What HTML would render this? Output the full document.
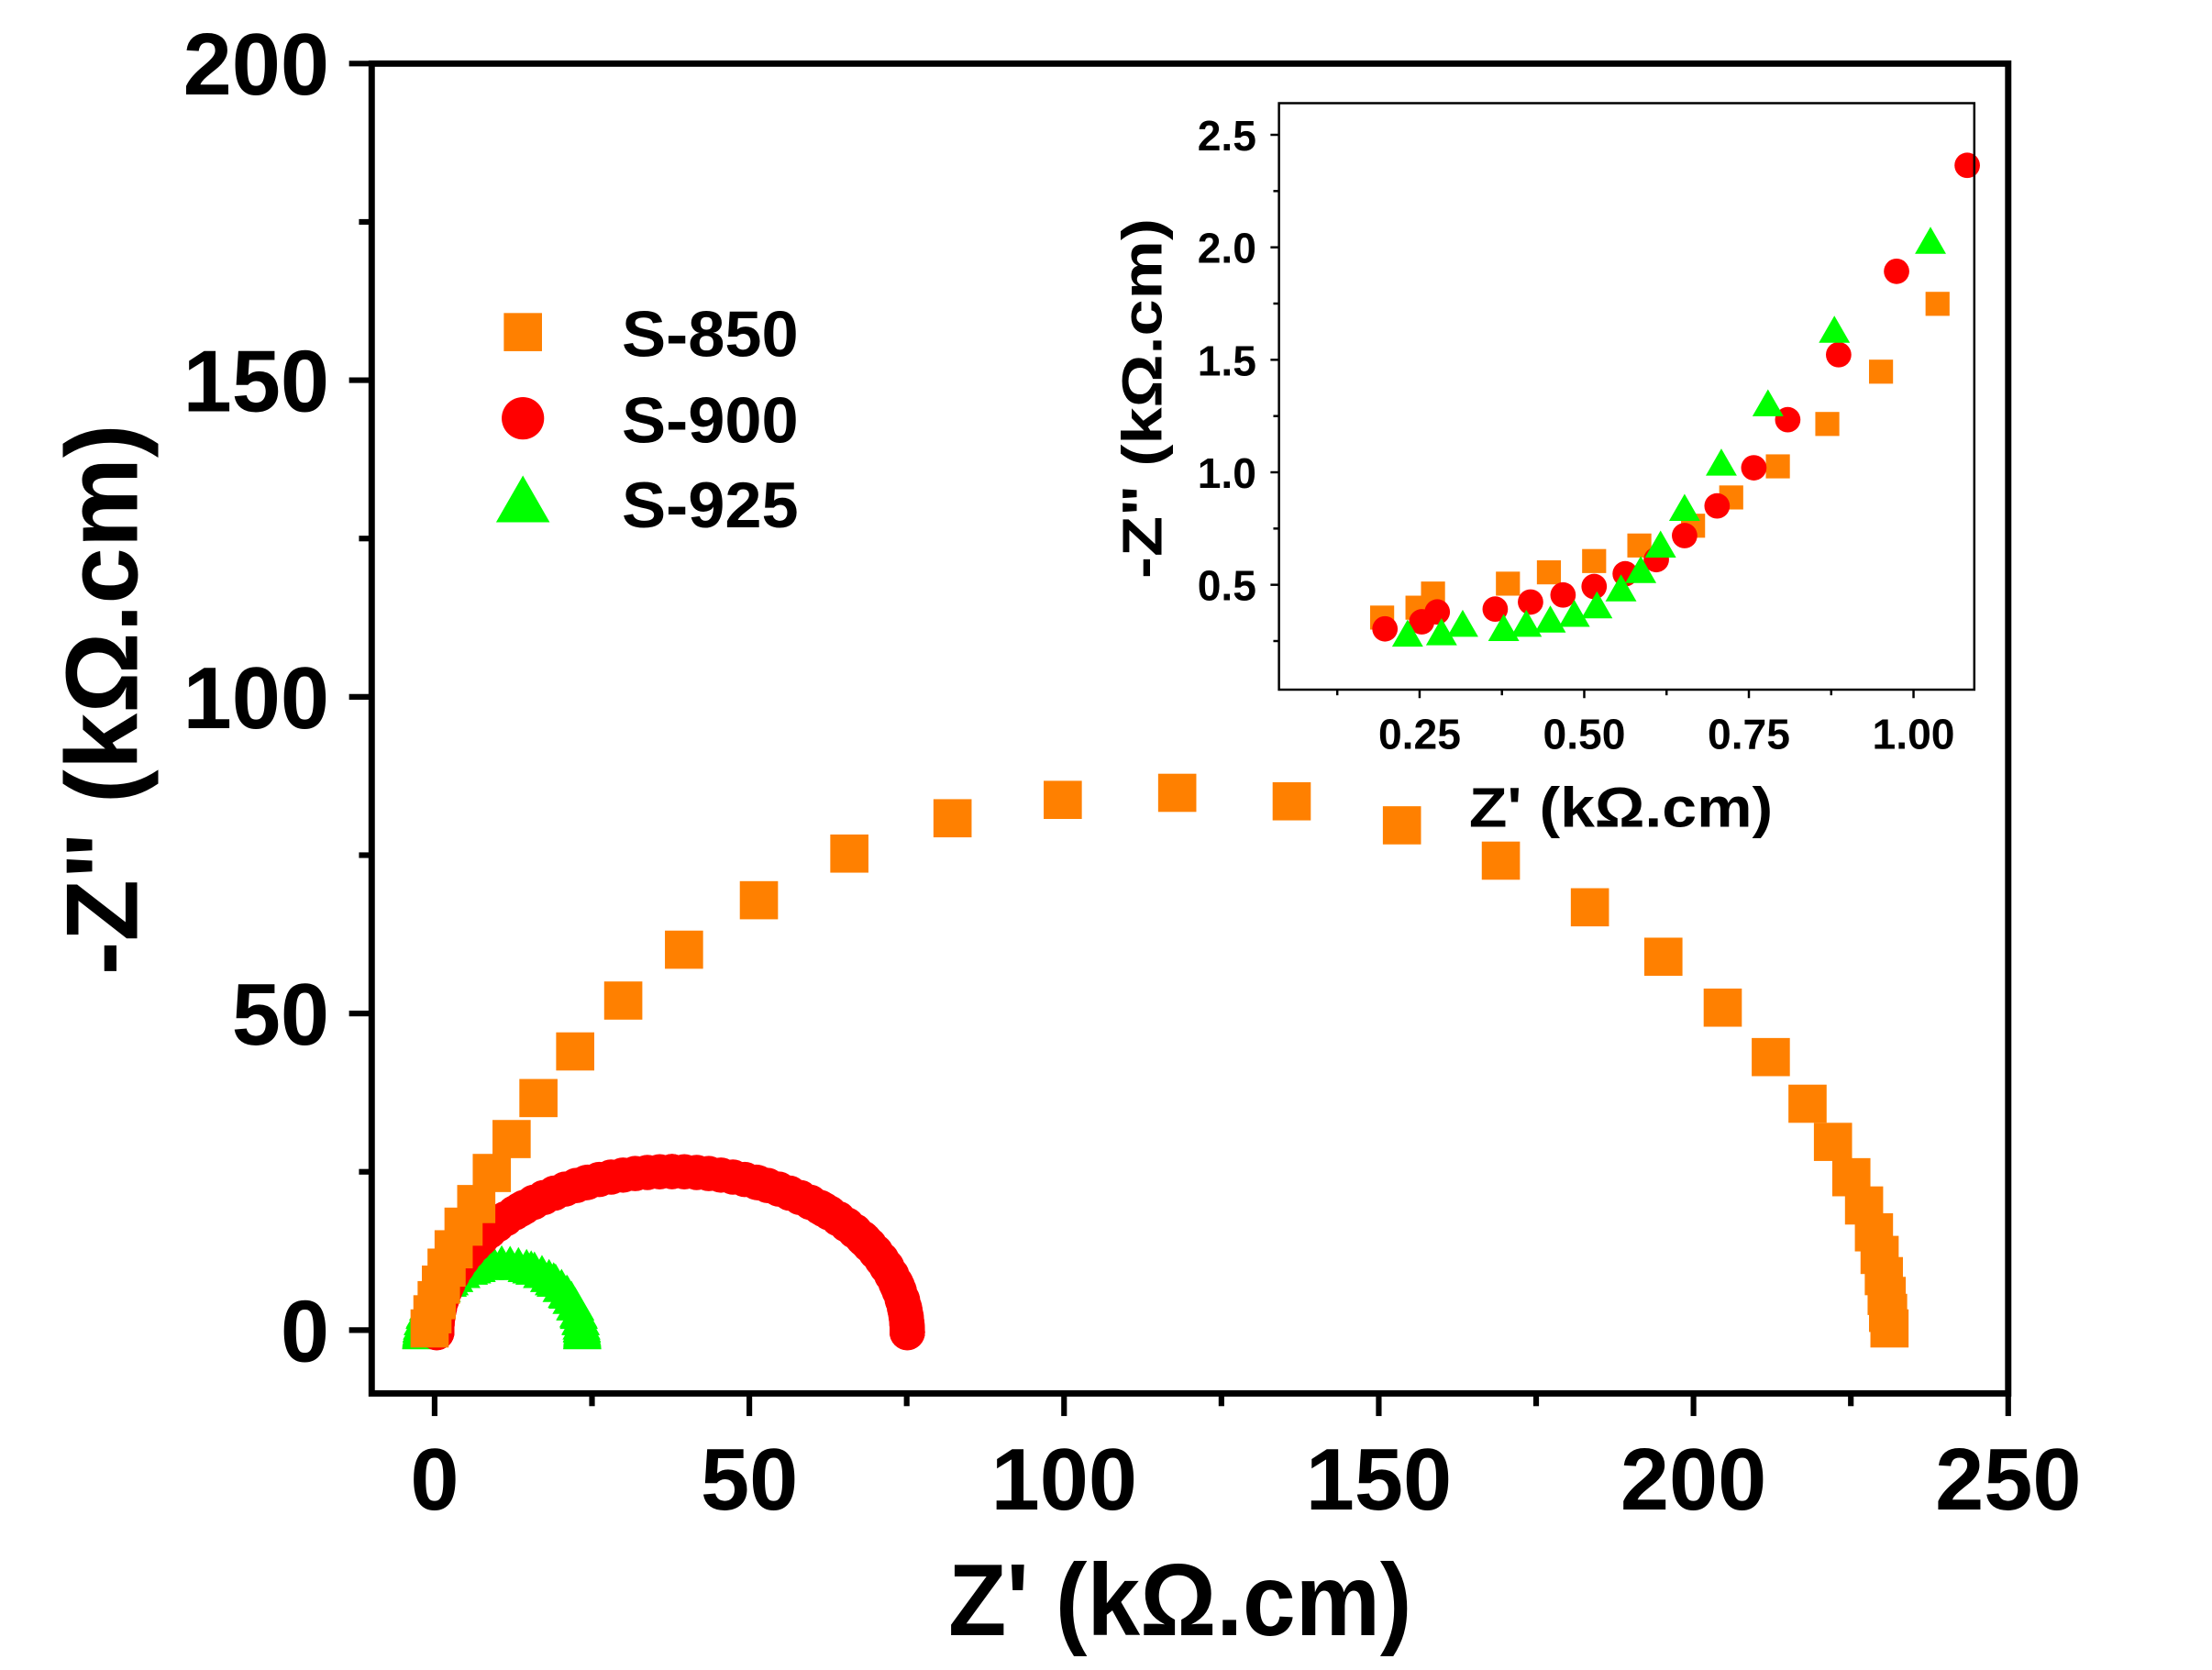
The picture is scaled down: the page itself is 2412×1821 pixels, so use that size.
<!DOCTYPE html>
<html><head><meta charset="utf-8"><style>
html,body{margin:0;padding:0;background:#fff;}
svg{display:block;}
text{font-family:"Liberation Sans",Arial,sans-serif;font-weight:bold;fill:#000;}
</style></head><body>
<svg id="s" width="2412" height="1821" viewBox="0 0 1565.2 1181.7" preserveAspectRatio="none" xmlns="http://www.w3.org/2000/svg">
<rect x="0" y="0" width="1566" height="1182" fill="#fff"/>
<g id="main"></g>
<g id="inset"></g>
</svg>
<script>
const NS="http://www.w3.org/2000/svg";
function el(p,t,a,txt){const e=document.createElementNS(NS,t);for(const k in a)e.setAttribute(k,a[k]);if(txt!==undefined)e.textContent=txt;p.appendChild(e);return e;}
const M=document.getElementById('main'),I=document.getElementById('inset');
const L=263,R=1421,T=45,B=986;
const px=v=>L+(v+10)*(R-L)/260;
const py=v=>B-(v+10)*(B-T)/210;
function sq(p,x,y,s,c){el(p,'rect',{x:x-s/2,y:y-s/2,width:s,height:s,fill:c});}
function ci(p,x,y,s,c){el(p,'circle',{cx:x,cy:y,r:s/2,fill:c});}
function tr(p,x,y,s,c){const h=s*0.87;el(p,'polygon',{points:`${x-s/2},${y+h/2} ${x+s/2},${y+h/2} ${x},${y-h/2}`,fill:c});}
const OR="#FF8000",RD="#FF0000",GR="#00FF00";
// green
const gth=[];for(let k=0;k<=30;k++)gth.push(k*Math.PI/30);for(let k=-16;k<=16;k++)gth.push(2*Math.atan(Math.pow(10,k/6)));
gth.forEach(th=>{const x=355-57*Math.cos(th);const y=943-50*Math.sin(th);tr(M,x,y,27,GR);});
// red
const rth=[];for(let k=0;k<=60;k++)rth.push(k*Math.PI/60);for(let k=-20;k<=20;k++)rth.push(2*Math.atan(Math.pow(10,k/6)));
rth.forEach(th=>{const x=475.5-166.5*Math.cos(th);const y=943-114*Math.sin(th);ci(M,x,y,25,RD);});
// orange
const o=[[304,940],[306,930],[309,920],[312,909],[316,897],[321,884],[328,868],[337,852],[348,830],[362,806],[381,777],[407,744],[441,708],[484,672],[537,637],[601,604],[674,579],[752,566],[833,561],[914,567],[992,584],[1062,609],[1125,642],[1177,677],[1219,713],[1253,748],[1279,781],[1297,808],[1310,833],[1319,853],[1326,872],[1330,888],[1333,903],[1335,917],[1336,929],[1337,940]];
o.forEach(p=>sq(M,p[0],p[1],27,OR));
el(M,'rect',{x:L,y:T,width:R-L,height:B-T,fill:'none',stroke:'#000','stroke-width':4.5});
for(let v=0;v<=250;v+=25){const x=px(v);const maj=v%50==0;el(M,'line',{x1:x,y1:B,x2:x,y2:B+(maj?16:9),stroke:'#000','stroke-width':4});
 if(maj)el(M,'text',{x:x,y:1068,'font-size':62,'text-anchor':'middle'},String(v));}
for(let v=0;v<=200;v+=25){const y=py(v);const maj=v%50==0;el(M,'line',{x1:L,y1:y,x2:L-(maj?16:9),y2:y,stroke:'#000','stroke-width':4});
 if(maj)el(M,'text',{x:233,y:y+22,'font-size':62,'text-anchor':'end'},String(v));}
el(M,'text',{x:835,y:1157,'font-size':72,'text-anchor':'middle',textLength:328,lengthAdjust:'spacingAndGlyphs'},"Z' (kΩ.cm)");
el(M,'text',{x:0,y:0,'font-size':72,'text-anchor':'middle',textLength:390,lengthAdjust:'spacingAndGlyphs',transform:'translate(97,495) rotate(-90)'},'-Z" (kΩ.cm)');
sq(M,370,235,27,OR);ci(M,370,296,30,RD);tr(M,370,353,38,GR);
[['S-850',235],['S-900',296],['S-925',356]].forEach(a=>el(M,'text',{x:440,y:a[1]+17,'font-size':46,textLength:125,lengthAdjust:'spacingAndGlyphs'},a[0]));
const iL=905,iR=1397,iT=73,iB=488;
const ix=v=>1004.5+(v-0.25)/0.25*116.5, iy=v=>95.4+(2.5-v)/0.5*79.6;
el(I,'rect',{x:iL,y:iT,width:iR-iL,height:iB-iT,fill:'#fff'});
const io=[[978,437],[1003,430],[1014,420],[1067,413],[1096,405],[1128,397],[1160,386],[1198,372],[1225,352],[1258,330],[1293,300],[1331,263],[1371,215]];
const ir=[[980,445],[1006,440],[1017,433],[1058,431],[1083,426],[1106,421],[1128,415],[1150,406],[1172,396],[1192,379],[1215,358],[1241,331],[1265,297],[1301,251],[1342,192],[1392,117]];
const ig=[[996,448],[1020,447],[1035,441],[1064,444],[1080,441],[1097,438],[1114,434],[1130,428],[1147,416],[1161,403],[1175,385],[1192,359],[1218,327],[1251,285],[1298,233],[1366,170]];
io.forEach(p=>sq(I,p[0],p[1],17,OR));ir.forEach(p=>ci(I,p[0],p[1],18,RD));ig.forEach(p=>tr(I,p[0],p[1],22,GR));
el(I,'rect',{x:iL,y:iT,width:iR-iL,height:iB-iT,fill:'none',stroke:'#000','stroke-width':1.6});
for(let k=1;k<=8;k++){const v=k*0.125;const x=ix(v);if(x>iR)break;const maj=k%2==0;el(I,'line',{x1:x,y1:iB,x2:x,y2:iB+(maj?6:4),stroke:'#000','stroke-width':1.6});
 if(maj)el(I,'text',{x:x,y:530,'font-size':30,'text-anchor':'middle'},v.toFixed(2));}
for(let k=1;k<=10;k++){const v=k*0.25;const y=iy(v);if(y<iT||y>iB)continue;const maj=k%2==0;el(I,'line',{x1:iL,y1:y,x2:iL-(maj?6:4),y2:y,stroke:'#000','stroke-width':1.6});
 if(maj)el(I,'text',{x:889,y:y+11,'font-size':30,'text-anchor':'end'},v.toFixed(1));}
el(I,'text',{x:1147,y:585,'font-size':40,'text-anchor':'middle',textLength:215,lengthAdjust:'spacingAndGlyphs'},"Z' (kΩ.cm)");
el(I,'text',{x:0,y:0,'font-size':40,'text-anchor':'middle',textLength:255,lengthAdjust:'spacingAndGlyphs',transform:'translate(822,282) rotate(-90)'},'-Z" (kΩ.cm)');
</script>
</body></html>
